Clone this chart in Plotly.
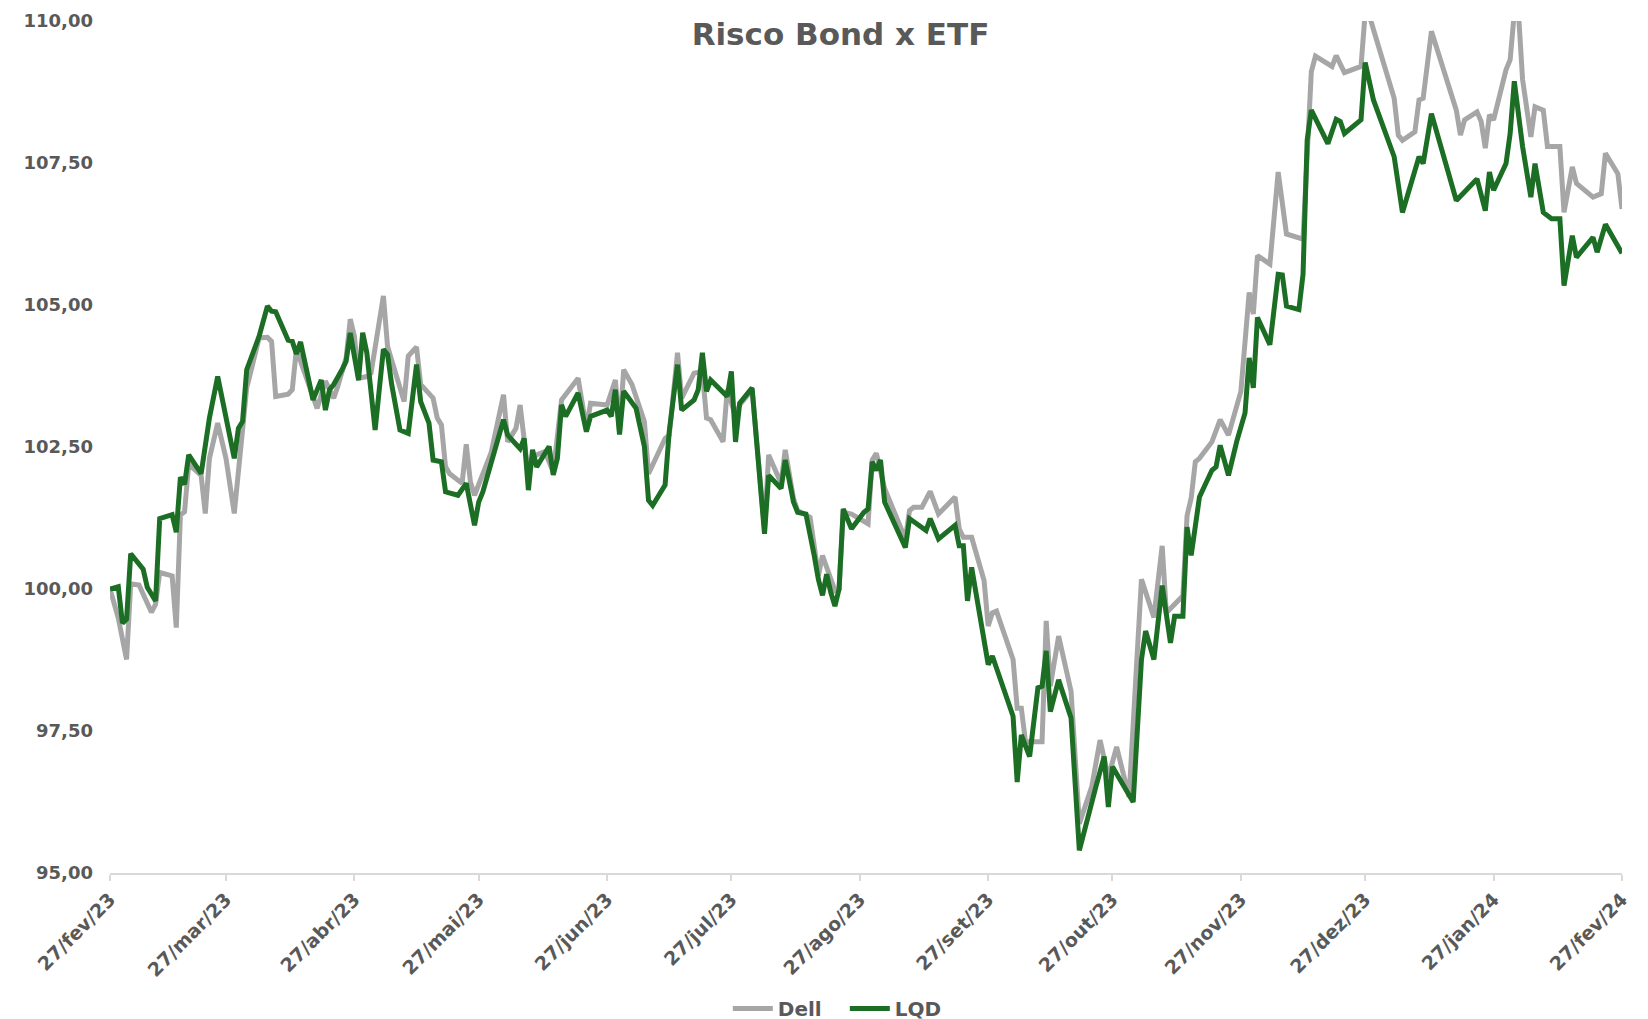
import plotly.graph_objects as go
import pandas as pd

base_date = "2023-02-27"

dell_days = [0, 2, 4, 5, 7, 9, 10, 11, 12, 15, 16, 17, 18, 19, 22, 23, 24, 26, 28, 30,
             33, 36, 38, 39, 40, 43, 44, 45, 48, 50, 51, 52, 54, 55, 57, 58, 59, 60, 62, 63,
             64, 66, 67, 68, 71, 72, 74, 75, 78, 79, 80, 81, 82, 85, 86, 87, 88, 92, 95, 96,
             98, 99, 101, 102, 105, 107, 109, 113, 115, 116, 120, 122, 123, 124, 126, 129, 130, 134, 135, 137,
             138, 141, 143, 144, 145, 148, 149, 151, 152, 155, 158, 159, 162, 163, 165, 166, 169, 170, 171, 172,
             175, 176, 177, 179, 183, 184, 185, 187, 192, 193, 194, 196, 198, 200, 204, 205, 206, 208, 211, 212,
             213, 214, 218, 219, 220, 221, 225, 226, 227, 229, 232, 234, 237, 239, 241, 243, 246, 249, 252, 254,
             255, 259, 260, 261, 262, 263, 266, 268, 270, 273, 275, 276, 277, 280, 282, 284, 288, 290, 291, 295,
             296, 298, 302, 303, 304, 305, 310, 311, 312, 315, 316, 317, 319, 325, 326, 327, 330, 331, 332, 333,
             334, 337, 338, 339, 340, 341, 343, 344, 346, 347, 350, 351, 353, 354, 358, 360, 361, 364, 365]
dell_values = [100.00, 99.49, 98.76, 100.09, 100.07, 99.73, 99.59, 99.73, 100.29, 100.23, 99.32, 101.30, 101.36, 102.20, 102.00, 101.33, 102.30, 102.92, 102.30, 101.33,
               103.54, 104.42, 104.43, 104.36, 103.39, 103.43, 103.51, 104.22, 103.63, 103.18, 103.42, 103.66, 103.36, 103.57, 104.07, 104.75, 104.45, 103.71, 103.74, 103.80,
               104.25, 105.16, 104.27, 104.01, 103.30, 104.10, 104.26, 103.60, 103.36, 103.01, 102.89, 102.15, 102.03, 101.86, 102.55, 101.89, 101.65, 102.40, 103.42, 102.59,
               102.83, 103.24, 102.00, 102.33, 102.42, 102.06, 103.33, 103.71, 102.83, 103.27, 103.24, 103.68, 102.77, 103.86, 103.60, 102.95, 102.03, 102.65, 102.71, 104.16,
               103.36, 103.80, 103.83, 103.01, 102.98, 102.59, 103.51, 103.04, 103.24, 103.51, 101.06, 102.36, 101.86, 102.45, 101.59, 101.38, 101.26, 100.76, 100.23, 100.59,
               99.97, 100.00, 101.35, 101.32, 101.15, 102.27, 102.39, 101.77, 100.88, 101.38, 101.44, 101.44, 101.72, 101.32, 101.62, 101.06, 100.91, 100.91, 100.15, 99.35,
               99.58, 99.61, 98.76, 97.90, 97.90, 97.31, 97.31, 99.44, 98.29, 99.17, 98.20, 95.87, 96.52, 97.34, 96.69, 97.22, 96.34, 100.17, 99.50, 100.76,
               99.58, 99.88, 101.29, 101.60, 102.24, 102.30, 102.59, 102.98, 102.71, 103.48, 105.22, 104.84, 105.87, 105.72, 107.34, 106.25, 106.16, 109.11, 109.38, 109.20,
               109.39, 109.09, 109.20, 110.15, 110.10, 109.85, 108.64, 107.99, 107.90, 108.05, 108.61, 108.64, 109.82, 108.43, 107.99, 108.26, 108.40, 108.23, 107.76, 108.35,
               108.26, 109.14, 109.32, 110.15, 110.15, 108.97, 107.96, 108.49, 108.43, 107.79, 107.79, 106.63, 107.43, 107.14, 106.90, 106.96, 107.67, 107.31, 106.69]

lqd_days = [0, 2, 3, 4, 5, 8, 9, 11, 12, 15, 16, 17, 18, 19, 22, 24, 26, 30, 31, 32,
            33, 36, 38, 39, 40, 42, 43, 44, 45, 46, 49, 51, 52, 53, 54, 56, 57, 58, 60, 61,
            62, 64, 66, 67, 68, 70, 72, 74, 75, 77, 78, 80, 81, 84, 86, 88, 89, 90, 92, 95,
            96, 99, 100, 101, 102, 103, 106, 107, 108, 109, 110, 113, 115, 116, 120, 121, 122, 123, 124, 127,
            129, 130, 131, 134, 135, 137, 138, 141, 142, 143, 144, 145, 149, 150, 151, 152, 155, 158, 159, 162,
            163, 165, 166, 168, 170, 171, 172, 173, 174, 175, 176, 177, 179, 182, 183, 184, 185, 186, 187, 192,
            193, 197, 198, 200, 204, 205, 206, 207, 208, 212, 213, 218, 219, 220, 222, 224, 225, 226, 227, 229,
            232, 234, 238, 240, 241, 242, 247, 249, 250, 252, 254, 256, 257, 259, 260, 261, 263, 264, 266, 267,
            268, 270, 272, 274, 275, 276, 277, 280, 282, 283, 284, 287, 288, 289, 290, 294, 296, 297, 298, 302,
            303, 305, 310, 312, 316, 317, 319, 325, 330, 332, 333, 334, 337, 338, 339, 341, 343, 344, 346, 348,
            350, 351, 353, 354, 358, 359, 361, 365]
lqd_values = [100.00, 100.04, 99.40, 99.47, 100.62, 100.35, 100.03, 99.79, 101.24, 101.31, 101.00, 101.97, 101.84, 102.36, 102.03, 103.01, 103.74, 102.30, 102.83, 102.95,
              103.86, 104.45, 104.98, 104.89, 104.88, 104.51, 104.38, 104.36, 104.14, 104.35, 103.33, 103.68, 103.15, 103.51, 103.60, 103.86, 104.01, 104.51, 103.68, 104.51,
              104.16, 102.80, 104.22, 104.13, 103.60, 102.80, 102.74, 103.95, 103.30, 102.92, 102.27, 102.24, 101.71, 101.65, 101.86, 101.12, 101.53, 101.71, 102.20, 102.98,
              102.71, 102.47, 102.65, 101.74, 102.45, 102.15, 102.51, 102.01, 102.30, 103.24, 103.04, 103.45, 102.77, 103.04, 103.15, 103.04, 103.51, 102.72, 103.48, 103.18,
              102.51, 101.56, 101.47, 101.83, 102.77, 103.95, 103.15, 103.33, 103.51, 104.16, 103.48, 103.68, 103.39, 103.83, 102.59, 103.27, 103.54, 100.97, 102.00, 101.77,
              102.27, 101.53, 101.35, 101.32, 100.59, 100.17, 99.89, 100.26, 99.94, 99.70, 100.00, 101.41, 101.06, 101.35, 101.41, 102.24, 102.09, 102.27, 101.53, 100.73,
              101.24, 101.03, 101.24, 100.88, 101.12, 100.76, 100.76, 99.79, 100.38, 98.67, 98.82, 97.76, 96.60, 97.43, 97.05, 98.26, 98.29, 98.91, 97.84, 98.40,
              97.73, 95.40, 96.52, 97.05, 96.16, 96.87, 96.25, 98.76, 99.26, 98.76, 100.06, 99.05, 99.52, 99.52, 101.09, 100.59, 101.62, 101.77, 102.09, 102.15,
              102.53, 102.00, 102.60, 103.10, 104.07, 103.54, 104.78, 104.30, 105.54, 105.53, 104.98, 104.92, 105.54, 107.90, 108.43, 107.84, 108.27, 108.23, 108.02, 108.26,
              109.27, 108.61, 107.61, 106.63, 107.61, 107.49, 108.37, 106.84, 107.22, 106.66, 107.34, 107.02, 107.49, 108.02, 108.94, 107.79, 106.90, 107.49, 106.63, 106.52,
              106.52, 105.34, 106.22, 105.84, 106.19, 105.93, 106.42, 105.91]

x_tick_dates = ["2023-02-27", "2023-03-27", "2023-04-27", "2023-05-27", "2023-06-27", "2023-07-27",
                "2023-08-27", "2023-09-27", "2023-10-27", "2023-11-27", "2023-12-27", "2024-01-27", "2024-02-27"]
x_tick_labels = ["27/fev/23", "27/mar/23", "27/abr/23", "27/mai/23", "27/jun/23", "27/jul/23",
                 "27/ago/23", "27/set/23", "27/out/23", "27/nov/23", "27/dez/23", "27/jan/24", "27/fev/24"]
y_tick_values = [95.0, 97.5, 100.0, 102.5, 105.0, 107.5, 110.0]
y_tick_labels = ["95,00", "97,50", "100,00", "102,50", "105,00", "107,50", "110,00"]

base = pd.Timestamp(base_date)
dell_dates = [base + pd.Timedelta(days=d) for d in dell_days]
lqd_dates = [base + pd.Timedelta(days=d) for d in lqd_days]

FONT = "DejaVu Sans"
TXT = "#595959"
H = 1040

fig = go.Figure()
fig.add_trace(go.Scatter(x=dell_dates, y=dell_values, mode="lines", name="Dell",
                         line=dict(color="#A6A6A6", width=5)))
fig.add_trace(go.Scatter(x=lqd_dates, y=lqd_values, mode="lines", name="LQD",
                         line=dict(color="#1C6E25", width=5)))

fig.update_layout(
    width=1648, height=H, autosize=False,
    margin=dict(l=110, r=26, t=21, b=H - 888),
    paper_bgcolor="white", plot_bgcolor="white",
    font=dict(family=FONT, color=TXT, size=18, weight="bold"),
    title=dict(text="<b>Risco Bond x ETF</b>", x=0.51, xanchor="center",
               y=1 - 34 / H, yanchor="middle",
               font=dict(family=FONT, size=31, color=TXT)),
    showlegend=True,
    legend=dict(orientation="h", x=0.486, xanchor="center", y=-0.159, yanchor="middle",
                font=dict(family=FONT, size=20, color=TXT, weight="bold"),
                entrywidth=62, entrywidthmode="pixels",
                itemwidth=40, tracegroupgap=0, bgcolor="rgba(0,0,0,0)"),
    xaxis=dict(type="date", range=[x_tick_dates[0], x_tick_dates[-1]],
               tickmode="array", tickvals=x_tick_dates, ticktext=x_tick_labels,
               tickangle=-45, showgrid=False, zeroline=False,
               showline=True, linecolor="#D9D9D9", linewidth=2,
               ticks="outside", ticklen=6, tickwidth=2, tickcolor="#D9D9D9",
               tickfont=dict(family=FONT, size=19, color=TXT, weight="bold"),
               automargin=False),
    yaxis=dict(range=[95, 110], tickmode="array", tickvals=y_tick_values, ticktext=y_tick_labels,
               showgrid=False, zeroline=False, showline=False, ticks="",
               ticklabelstandoff=16,
               tickfont=dict(family=FONT, size=18, color=TXT, weight="bold"),
               automargin=False),
)

fig.write_html("out.html",
               config={"responsive": False, "displayModeBar": False},
               post_script="document.body.style.margin='0';document.body.style.overflow='hidden';")
